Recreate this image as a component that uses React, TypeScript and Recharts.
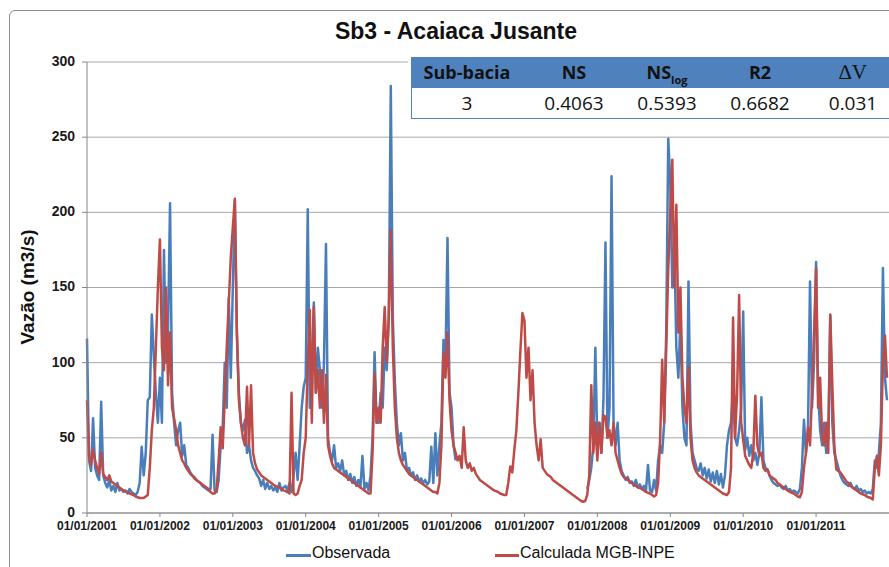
import { LineChart, Line, XAxis, YAxis, CartesianGrid } from "recharts";

// tick labels (one per year, data is sampled every ~10 days: 36 points per year)
const yearLabels = [
  "01/01/2001", "01/01/2002", "01/01/2003", "01/01/2004", "01/01/2005", "01/01/2006",
  "01/01/2007", "01/01/2008", "01/01/2009", "01/01/2010", "01/01/2011",
];
const yTicks = [0, 50, 100, 150, 200, 250, 300];

// Observada (m3/s)
const obs2001 = [116, 35, 28, 63, 30, 25, 22, 74, 25, 20, 17, 22, 15, 18, 14, 20, 15, 16, 14, 15, 13, 16, 14, 13, 12, 14, 20, 44, 25, 40, 75, 77, 132, 104, 80, 60];
const obs2002 = [90, 60, 175, 100, 120, 206, 80, 60, 45, 55, 60, 38, 45, 32, 30, 27, 25, 24, 22, 21, 20, 18, 17, 16, 15, 16, 52, 15, 14, 22, 45, 57, 100, 70, 143, 90];
const obs2003 = [150, 208, 120, 80, 60, 55, 62, 40, 45, 35, 30, 28, 25, 23, 18, 22, 16, 20, 16, 18, 15, 17, 14, 20, 15, 17, 18, 15, 20, 14, 25, 40, 22, 45, 70, 84];
const obs2004 = [90, 202, 70, 100, 140, 80, 110, 95, 70, 100, 179, 50, 40, 35, 45, 30, 33, 28, 35, 25, 28, 22, 26, 20, 24, 18, 22, 17, 38, 16, 20, 15, 25, 50, 107, 60];
const obs2005 = [60, 80, 70, 110, 95, 130, 284, 130, 88, 60, 45, 53, 35, 40, 28, 30, 25, 27, 22, 25, 21, 23, 20, 22, 19, 21, 44, 20, 53, 25, 45, 60, 115, 100, 183, 80];
const obs2006 = [70, 45, 35, null, null, null, null, null, null, null, null, null, null, null, null, null, null, null, null, null, null, null, null, null, null, null, null, null, null, null, null, null, null, null, null, null];
const obs2007 = [null, null, null, null, null, null, null, null, null, null, null, null, null, null, null, null, null, null, null, null, null, null, null, null, null, null, null, null, null, null, null, 16, 22, 30, 45, 110];
const obs2008 = [45, 60, 40, 75, 180, 50, 70, 224, 60, 45, 60, 35, 28, 25, 22, 24, 20, 21, 18, 22, 17, 19, 16, 18, 15, 32, 15, 14, 22, 15, 35, 45, 40, 60, 120, 249];
const obs2009 = [220, 150, 180, 110, 90, 128, 70, 50, 45, 154, 60, 40, 35, 30, 28, 33, 25, 30, 23, 29, 21, 27, 20, 28, 19, 26, 17, 25, 45, 55, 60, 82, 50, 45, 55, 70];
const obs2010 = [134, 42, 50, 38, 45, 35, 40, 32, 40, 77, 35, 30, 29, 25, 22, 20, 19, 18, 19, 17, 16, 18, 15, 16, 14, 15, 14, 13, 16, 30, 62, 40, 55, 154, 70, 100];
const obs2011 = [167, 80, 55, 45, 60, 40, 50, 131, 60, 40, 35, 30, 25, 22, 20, 19, 18, 20, 17, 16, 18, 15, 16, 14, 15, 13, 14, 13, 16, 35, 30, 40, 60, 163, 90, 75];

// Calculada MGB-INPE (m3/s)
const sim2001 = [75, 38, 32, 42, 35, 30, 26, 40, 26, 24, 22, 25, 21, 20, 19, 18, 17, 16, 15, 14.5, 14, 13, 12.5, 12, 11, 10.5, 10, 10, 10, 11, 12, 30, 55, 70, 110, 150];
const sim2002 = [182, 110, 95, 150, 85, 120, 70, 63, 55, 45, 40, 35, 33, 30, 28, 26, 25, 23, 22, 21, 20, 19, 18, 17, 16, 14, 13, 13, 15, 35, 57, 43, 75, 110, 140, 170];
const sim2003 = [190, 209, 120, 75, 60, 50, 45, 84, 45, 85, 40, 33, 29, 27, 25, 24, 23, 22, 21, 20, 19, 18, 17.5, 17, 16, 15, 14.5, 14, 13, 80, 13, 12, 13, 18, 22, 40];
const sim2004 = [50, 100, 135, 60, 137, 80, 95, 70, 95, 60, 92, 45, 38, 33, 30, 29, 28, 27, 26, 25, 24, 23, 22, 21, 20, 19, 18, 17, 16, 15, 14, 13, 13, 40, 93, 60];
const sim2005 = [70, 60, 110, 137, 100, 130, 188, 110, 70, 50, 40, 35, 32, 30, 28, 26, 25, 24, 23, 22, 21, 20, 19, 18, 17, 16, 15, 14, 14, 13, 20, 45, 106, 90, 120, 75];
const sim2006 = [55, 45, 40, 35, 38, 30, 57, 35, 30, 33, 28, 30, 26, 24, 22, 21, 20, 19, 18, 17, 16, 15, 14.5, 14, 13, 12.5, 12, 12, 20, 31, 27, 42, 55, 80, 108, 133];
const sim2007 = [128, 90, 110, 75, 95, 60, 45, 35, 49, 30, 28, 26, 25, 24, 22, 21, 20, 19, 18, 17, 16, 15, 14, 13, 12, 11, 10, 9, 8, 7.5, 8, 12, 25, 85, 40, 60];
const sim2008 = [35, 60, 40, 65, 64, 50, 55, 45, 60, 40, 35, 30, 26, 24, 23, 22, 21, 20, 19, 18, 17, 16.5, 16, 15, 14, 13.5, 13, 12, 11, 12, 20, 49, 102, 60, 110, 162];
const sim2009 = [200, 235, 150, 205, 120, 150, 90, 70, 60, 97, 50, 35, 30, 27, 25, 24, 23, 22, 21, 20, 19, 18, 17, 16, 15, 14, 13, 12.5, 12, 14, 30, 130, 50, 80, 145, 60];
const sim2010 = [49, 38, 35, 32, 30, 40, 78, 45, 38, 40, 30, 28, 29, 25, 24, 23, 22, 20, 19, 18, 17, 16, 15, 14, 13.5, 13, 12, 11, 10.5, 14, 30, 40, 57, 45, 80, 120];
const sim2011 = [163, 70, 90, 50, 45, 60, 40, 132, 86, 45, 29, 28, 27, 25, 23, 21, 20, 18, 17, 16, 15, 14, 13, 12.5, 12, 11, 10.5, 10, 9, 30, 38, 25, 45, 100, 118, 90];

const observada = [
  ...obs2001, ...obs2002, ...obs2003, ...obs2004, ...obs2005, ...obs2006,
  ...obs2007, ...obs2008, ...obs2009, ...obs2010, ...obs2011,
];
const calculada = [
  ...sim2001, ...sim2002, ...sim2003, ...sim2004, ...sim2005, ...sim2006,
  ...sim2007, ...sim2008, ...sim2009, ...sim2010, ...sim2011,
];

const data = observada.map((v, i) => ({ t: i, observada: v, calculada: calculada[i] }));
const yearTicks = yearLabels.map((_, i) => i * 36);

// stats table
const statValues = ["3", "0.4063", "0.5393", "0.6682", "0.031"];
const colCenters = [470, 577, 670, 763, 856];

const BLUE = "#4A7EBB";
const RED = "#BE4B48";
const font = "'Liberation Sans', Arial, sans-serif";
const tableFont = "'Open Sans', sans-serif";

function StatsTable() {
  const cell = (i: number, top: number, content: any, style: any = {}) => (
    <div
      key={`${top}-${i}`}
      style={{
        position: "absolute",
        left: colCenters[i] - 411 - 60,
        width: 120,
        top,
        height: 31,
        lineHeight: "31px",
        textAlign: "center",
        ...style,
      }}
    >
      {content}
    </div>
  );
  const head = { fontWeight: 700, fontSize: 18, color: "#111" };
  return (
    <div
      style={{
        position: "absolute",
        left: 408,
        top: 56,
        width: 500,
        height: 66,
        background: "#fff",
        fontFamily: tableFont,
      }}
    >
      <div style={{ position: "absolute", left: 3, top: 1, width: 500, height: 31, background: "#4F81BD" }} />
      <div
        style={{
          position: "absolute",
          left: 3,
          top: 32,
          width: 500,
          height: 31,
          boxSizing: "border-box",
          borderLeft: "1px solid #4F81BD",
          borderBottom: "1px solid #4F81BD",
        }}
      />
      {cell(0, 1, "Sub-bacia", head)}
      {cell(1, 1, "NS", head)}
      {cell(2, 1, (
        <span>
          NS<span style={{ fontSize: 11, position: "relative", top: 5 }}>log</span>
        </span>
      ), head)}
      {cell(3, 1, "R2", head)}
      {cell(4, 1, "\u2206V", { fontFamily: "'Liberation Serif', serif", fontSize: 21, color: "#111" })}
      {statValues.map((v, i) => cell(i, 32, v, { fontSize: 19, color: "#111" }))}
    </div>
  );
}

export default function App() {
  return (
    <div
      style={{
        position: "fixed",
        left: 0,
        top: 0,
        width: 889,
        height: 567,
        overflow: "hidden",
        background: "#fff",
        fontFamily: font,
      }}
    >
      {/* chart frame */}
      <div
        style={{
          position: "absolute",
          left: 9,
          top: 10,
          width: 1000,
          height: 700,
          border: "1px solid #8E8E8E",
          borderRadius: 6,
        }}
      />
      <div style={{ position: "absolute", left: 0, top: 0 }}>
        <LineChart width={889} height={567} data={data} margin={{ top: 62, right: 0, bottom: 24, left: 27 }}>
          <CartesianGrid vertical={false} stroke="#A8A8A8" />
          <XAxis
            dataKey="t"
            type="number"
            domain={[0, 396]}
            ticks={yearTicks}
            interval={0}
            tickFormatter={(v: number) => yearLabels[Math.round(v / 36)]}
            height={30}
            tickSize={4}
            tickMargin={4}
            stroke="#868686"
            tick={{ fontSize: 12, fontWeight: 700, fill: "#1a1a1a", fontFamily: font }}
          />
          <YAxis
            domain={[0, 300]}
            ticks={yTicks}
            width={60}
            tickSize={5}
            tickMargin={7}
            stroke="#868686"
            tick={{ fontSize: 14, fontWeight: 700, fill: "#1a1a1a", fontFamily: font, dy: -1 }}
          />
          <Line
            type="linear"
            dataKey="observada"
            stroke={BLUE}
            strokeWidth={2.5}
            strokeLinejoin="round"
            dot={false}
            isAnimationActive={false}
          />
          <Line
            type="linear"
            dataKey="calculada"
            stroke={RED}
            strokeWidth={2.5}
            strokeLinejoin="round"
            dot={false}
            isAnimationActive={false}
          />
        </LineChart>
      </div>
      {/* title */}
      <div
        style={{
          position: "absolute",
          left: 256,
          width: 400,
          top: 18,
          textAlign: "center",
          fontSize: 23,
          fontWeight: 700,
          color: "#111",
        }}
      >
        Sb3 - Acaiaca Jusante
      </div>
      {/* y axis title */}
      <div
        style={{
          position: "absolute",
          left: 28 - 100,
          top: 287 - 12,
          width: 200,
          height: 24,
          lineHeight: "24px",
          textAlign: "center",
          transform: "rotate(-90deg)",
          fontSize: 19,
          fontWeight: 700,
          color: "#111",
        }}
      >
        Vazão (m3/s)
      </div>
      <StatsTable />
      {/* legend */}
      <div style={{ position: "absolute", left: 286, top: 554, width: 25, height: 3, background: BLUE }} />
      <div style={{ position: "absolute", left: 312, top: 544, fontSize: 16, color: "#111" }}>Observada</div>
      <div style={{ position: "absolute", left: 495, top: 554, width: 24, height: 3, background: RED }} />
      <div style={{ position: "absolute", left: 520, top: 544, fontSize: 16, color: "#111" }}>Calculada MGB-INPE</div>
    </div>
  );
}
